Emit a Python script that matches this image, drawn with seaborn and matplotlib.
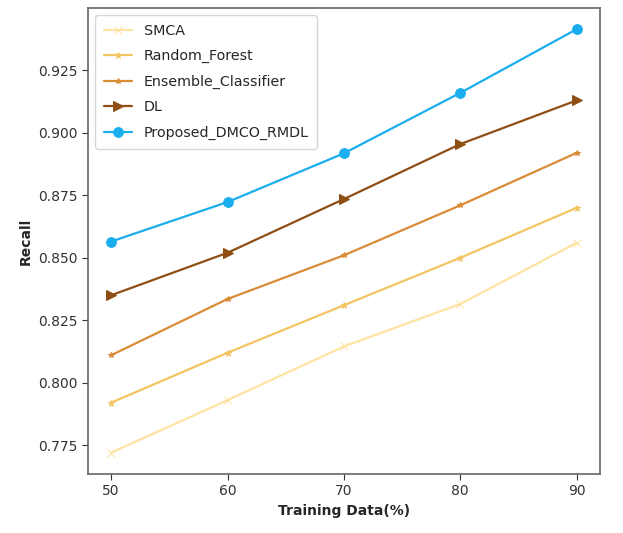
import matplotlib
matplotlib.use("Agg")
import matplotlib.pyplot as plt
import seaborn as sns
import pandas as pd

training = [50, 60, 70, 80, 90]
smca = [0.772, 0.793, 0.8145, 0.8315, 0.856]
random_forest = [0.792, 0.812, 0.831, 0.850, 0.870]
ensemble = [0.811, 0.8335, 0.851, 0.871, 0.892]
dl = [0.835, 0.852, 0.8735, 0.8955, 0.913]
proposed = [0.8565, 0.8723, 0.8918, 0.916, 0.9415]

names = ["SMCA", "Random_Forest", "Ensemble_Classifier", "DL", "Proposed_DMCO_RMDL"]
series = [smca, random_forest, ensemble, dl, proposed]
colors = ["#FFE3A3", "#F2C462", "#DA8B36", "#8E4E14", "#1AAEEE"]
markers = ["x", "*", "*", ">", "o"]
msizes = [6, 5, 4, 7, 7]

sns.set_style("white")
fig = plt.figure(figsize=(6.23, 5.33), dpi=100)
ax = fig.add_axes([0.141, 0.111, 0.822, 0.874])

for name, vals, c, m, ms in zip(names, series, colors, markers, msizes):
    df = pd.DataFrame({"x": training, "y": vals})
    sns.lineplot(data=df, x="x", y="y", ax=ax, color=c, marker=m, markersize=ms,
                 markeredgecolor=c, linewidth=1.6, label=name)

ax.set_xticks(training)
ax.set_yticks([0.775, 0.800, 0.825, 0.850, 0.875, 0.900, 0.925])
ax.set_yticklabels(["0.775", "0.800", "0.825", "0.850", "0.875", "0.900", "0.925"])
ax.tick_params(axis="both", labelsize=10, colors="#333333", length=4, left=True, bottom=True)
ax.set_xlabel("Training Data(%)", fontweight="bold", fontsize=10)
ax.set_ylabel("Recall", fontweight="bold", fontsize=10)
for s in ax.spines.values():
    s.set_color("#666666")
    s.set_linewidth(1.2)
ax.legend(loc="upper left", fontsize=10.3, frameon=True, labelspacing=0.8,
          handlelength=2.0, borderpad=0.6)

fig.savefig("out.png", dpi=100)
